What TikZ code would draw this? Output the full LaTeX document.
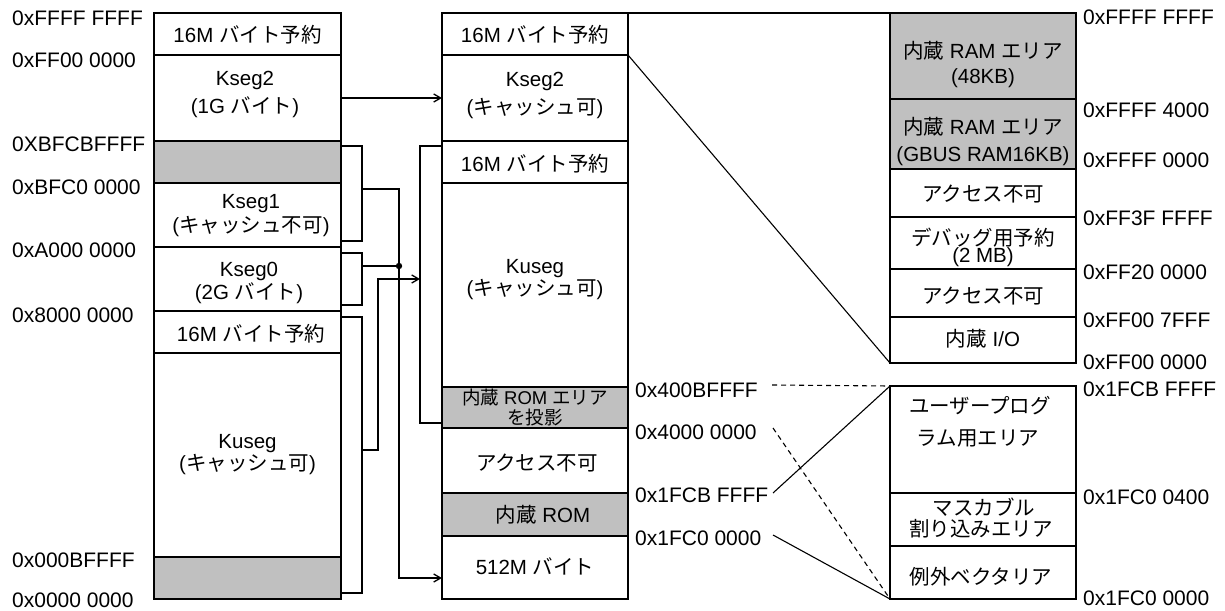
\documentclass[tikz,border=0pt]{standalone}
\usepackage{fontspec}
\setmainfont{Liberation Sans}
\newfontfamily\jp{Noto Sans CJK JP}
\usetikzlibrary{arrows.meta}
\definecolor{boxgray}{RGB}{192,192,192}
\newcommand{\J}[1]{{\jp #1}}
\newcommand{\mcell}[6]{\node[cell,fill=#6,minimum width={(#4-#2)*1pt},minimum height={(#5-#3)*1pt}] (#1) at ({(#2+#4)/2},{(#3+#5)/2}) {};}
\tikzset{
  cell/.style={draw=black, line width=1.5pt, inner sep=0pt, outer sep=0pt},
  txt/.style={anchor=base, inner sep=0pt, font=\fontsize{20.5}{24}\selectfont},
  small/.style={font=\fontsize{18.5}{20}\selectfont},
  tight/.style={text height=13pt, text depth=1pt},
  addr/.style={anchor=base west, inner sep=0pt, font=\fontsize{21}{24}\selectfont},
  conn/.style={line width=1.3pt},
  thinl/.style={line width=1.1pt},
  dsh/.style={line width=1.1pt, dash pattern=on 5pt off 4pt},
  arr/.style={-{Straight Barb[length=7pt,width=8pt]}},
}
\begin{document}
\begin{tikzpicture}[x=1pt,y=-1pt]
\useasboundingbox (0,0) rectangle (1225,610);
\fill[white] (0,0) rectangle (1225,610);
% left column
\mcell{L1}{154}{13}{341}{55}{white}
\mcell{L2}{154}{55}{341}{141}{white}
\mcell{L3}{154}{141}{341}{183}{boxgray}
\mcell{L4}{154}{183}{341}{247}{white}
\mcell{L5}{154}{247}{341}{311}{white}
\mcell{L6}{154}{311}{341}{353}{white}
\mcell{L7}{154}{353}{341}{557}{white}
\mcell{L8}{154}{557}{341}{599}{boxgray}
% middle column
\mcell{M1}{442}{13}{628}{55}{white}
\mcell{M2}{442}{55}{628}{141}{white}
\mcell{M3}{442}{141}{628}{183}{white}
\mcell{M4}{442}{183}{628}{387}{white}
\mcell{M5}{442}{387}{628}{428}{boxgray}
\mcell{M6}{442}{428}{628}{493}{white}
\mcell{M7}{442}{493}{628}{536}{boxgray}
\mcell{M8}{442}{536}{628}{599}{white}
% right top
\mcell{R1}{890}{13}{1076}{99}{boxgray}
\mcell{R2}{890}{99}{1076}{169}{boxgray}
\mcell{R3}{890}{169}{1076}{217}{white}
\mcell{R4}{890}{217}{1076}{269}{white}
\mcell{R5}{890}{269}{1076}{317}{white}
\mcell{R6}{890}{317}{1076}{363}{white}
% right bottom
\mcell{B1}{890}{386}{1076}{493}{white}
\mcell{B2}{890}{493}{1076}{546}{white}
\mcell{B3}{890}{546}{1076}{599}{white}
% left texts
\node[txt] (tl1) at (247.5,42) {16M \J{バイト予約}};
\node[txt] (tl2a) at (245,85) {Kseg2};
\node[txt] (tl2b) at (245,113.5) {(1G \J{バイト})};
\node[txt] (tl4a) at (251,208.5) {Kseg1};
\node[txt] (tl4b) at (251,232) {(\J{キャッシュ不可})};
\node[txt] (tl5a) at (249,276) {Kseg0};
\node[txt] (tl5b) at (249,299) {(2G \J{バイト})};
\node[txt] (tl6) at (251,341) {16M \J{バイト予約}};
\node[txt] (tl7a) at (247.5,448) {Kuseg};
\node[txt] (tl7b) at (247.5,470) {(\J{キャッシュ可})};
% middle texts
\node[txt] (tm1) at (535,43) {16M \J{バイト予約}};
\node[txt] (tm2a) at (535,86) {Kseg2};
\node[txt] (tm2b) at (535,114) {(\J{キャッシュ可})};
\node[txt] (tm3) at (535,171) {16M \J{バイト予約}};
\node[txt] (tm4a) at (535,273) {Kuseg};
\node[txt] (tm4b) at (535,295) {(\J{キャッシュ可})};
\node[txt,small,tight] (tm5a) at (535,404.5) {\J{内蔵} ROM \J{エリア}};
\node[txt,small,tight] (tm5b) at (535,424) {\J{を投影}};
\node[txt] (tm6) at (537,470) {\J{アクセス不可}};
\node[txt] (tm7) at (543,522) {\J{内蔵} ROM};
\node[txt] (tm8) at (535,574) {512M \J{バイト}};
% right top texts
\node[txt] (tr1a) at (983,59) {\J{内蔵} RAM \J{エリア}};
\node[txt] (tr1b) at (983,83) {(48KB)};
\node[txt] (tr2a) at (983,134) {\J{内蔵} RAM \J{エリア}};
\node[txt] (tr2b) at (983,161.5) {(GBUS RAM16KB)};
\node[txt] (tr3) at (983,201) {\J{アクセス不可}};
\node[txt,tight] (tr4a) at (983,245) {\J{デバッグ用予約}};
\node[txt,tight] (tr4b) at (983,262) {(2 MB)};
\node[txt] (tr5) at (983,303) {\J{アクセス不可}};
\node[txt] (tr6) at (983,346) {\J{内蔵} I/O};
% right bottom texts
\node[txt] (tb1a) at (980,413) {\J{ユーザープログ}};
\node[txt] (tb1b) at (978,445) {\J{ラム用エリア}};
\node[txt] (tb2a) at (984,515) {\J{マスカブル}};
\node[txt] (tb2b) at (981,536) {\J{割り込みエリア}};
\node[txt] (tb3) at (981,584) {\J{例外ベクタリア}};
% address labels left
\node[addr] (al1) at (12,25.5) {0xFFFF FFFF};
\node[addr] (al2) at (12,67) {0xFF00 0000};
\node[addr] (al3) at (12,151.5) {0XBFCBFFFF};
\node[addr] (al4) at (12,194) {0xBFC0 0000};
\node[addr] (al5) at (12,257) {0xA000 0000};
\node[addr] (al6) at (12,322) {0x8000 0000};
\node[addr] (al7) at (12,567.5) {0x000BFFFF};
\node[addr] (al8) at (12,607.5) {0x0000 0000};
% address labels middle
\node[addr] (am1) at (635,397) {0x400BFFFF};
\node[addr] (am2) at (635,439) {0x4000 0000};
\node[addr] (am3) at (635,502) {0x1FCB FFFF};
\node[addr] (am4) at (635,545) {0x1FC0 0000};
% address labels right
\node[addr] (ar1) at (1083,25) {0xFFFF FFFF};
\node[addr] (ar2) at (1083,117) {0xFFFF 4000};
\node[addr] (ar3) at (1083,167) {0xFFFF 0000};
\node[addr] (ar4) at (1083,225) {0xFF3F FFFF};
\node[addr] (ar5) at (1083,279) {0xFF20 0000};
\node[addr] (ar6) at (1083,327) {0xFF00 7FFF};
\node[addr] (ar7) at (1083,369) {0xFF00 0000};
\node[addr] (ar8) at (1083,396) {0x1FCB FFFF};
\node[addr] (ar9) at (1083,504) {0x1FC0 0400};
\node[addr] (ar10) at (1083,605) {0x1FC0 0000};
% connectors
\draw[conn,arr] (L2.east) -- (M2.west);
\coordinate (k1t) at (341,146);
\coordinate (k1b) at (341,241);
\draw[conn] (k1t) -- (362,146) -- (362,241) -- (k1b);
\coordinate (k1o) at (362,189);
\coordinate (jn) at (399,266);
\coordinate (m8in) at (442,578);
\draw[conn,arr] (k1o) -- (399,189) -- (399,578) -- (m8in);
\coordinate (k0t) at (341,253);
\coordinate (k0b) at (341,305);
\draw[conn] (k0t) -- (362,253) -- (362,305) -- (k0b);
\coordinate (k0o) at (362,266);
\draw[conn] (k0o) -- (jn);
\fill (jn) circle (3.2pt);
\coordinate (kut) at (341,317);
\coordinate (kub) at (341,593);
\draw[conn] (kut) -- (362,317) -- (362,593) -- (kub);
\coordinate (kuo) at (362,450);
\coordinate (mbk) at (420,279);
\draw[conn,arr] (kuo) -- (378,450) -- (378,279) -- (mbk);
\coordinate (mbt) at (442,146);
\coordinate (mbb) at (442,423);
\draw[conn] (mbt) -- (420,146) -- (420,423) -- (mbb);
\draw[conn] (M1.north east) -- (R1.north west);
\draw[thinl] (M2.north east) -- (R6.south west);
\coordinate (d1) at (772,385);
\coordinate (d2) at (773,428);
\coordinate (s1) at (773,493);
\coordinate (s2) at (773,535);
\draw[dsh] (d1) -- (B1.north west);
\draw[dsh] (d2) -- (B3.south west);
\draw[thinl] (s1) -- (B1.north west);
\draw[thinl] (s2) -- (B3.south west);
\end{tikzpicture}
\end{document}
